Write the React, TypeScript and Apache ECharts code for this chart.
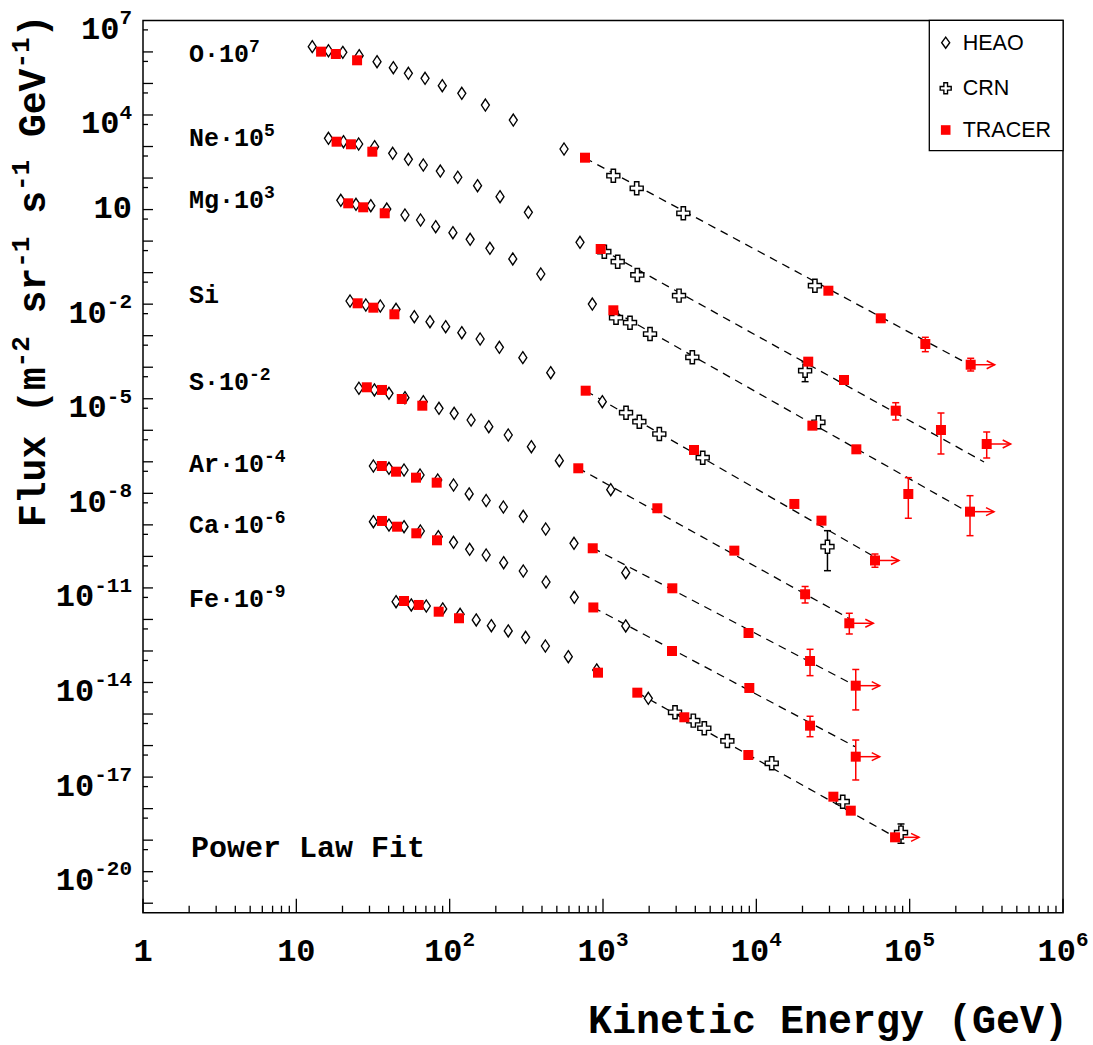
import React, { useEffect, useRef } from "react";
import * as echarts from "echarts";

const MONO = '"Liberation Mono", "DejaVu Sans Mono", monospace';
const SANS = '"Liberation Sans", Arial, sans-serif';

// ---------------- DATA (kinetic energy GeV, scaled flux) ----------------
// HEAO: [E, flux]
const heaoO = [[12.7,1.47e6],[16.2,1.09e6],[20.1,9.7e5],[25.7,7.6e5],[33.6,4.9e5],[42.9,3.16e5],[53.8,2.1e5],[69.1,1.46e5],[89.5,8.5e4],[120,4.87e4],[171,2.07e4],[260,6.9e3],[557,834]];
const heaoNe = [[16.2,1823],[20.3,1422],[25.5,1202],[32.4,987],[42.5,609],[53.8,393],[67.3,259],[86.9,167],[113,106],[152,57.2],[213,25.6],[326,8.2],[708,0.917]];
const heaoMg = [[19.5,19.7],[24.5,14.7],[30.6,13.3],[38.9,10.4],[51.1,6.73],[64.6,4.67],[81.1,2.86],[105,1.85],[136,1.14],[183,0.591],[258,0.271],[393,0.0905],[852,0.0101]];
const heaoSi = [[22.4,0.0126],[28.4,9.41e-3],[35.3,8.74e-3],[44.7,6.87e-3],[58.8,4.0e-3],[74.4,2.78e-3],[94.2,1.93e-3],[120,1.245e-3],[158,7.86e-4],[211,4.28e-4],[300,2.01e-4],[456,6.71e-5],[990,8.06e-6]];
const heaoS = [[25.6,2.15e-5],[32.3,1.9e-5],[40.2,1.49e-5],[51.1,1.08e-5],[67.3,8.06e-6],[85.2,4.98e-6],[107,3.46e-6],[138,2.12e-6],[180,1.3e-6],[241,7.09e-7],[341,3.02e-7],[519,1.084e-7],[1123,1.305e-8]];
const heaoAr = [[31.8,7.37e-8],[40.2,6.23e-8],[50.4,5.5e-8],[64.1,3.82e-8],[83.6,2.65e-8],[106,1.84e-8],[134,9.54e-9],[173,5.93e-9],[224,3.69e-9],[302,1.87e-9],[423,7.4e-10],[647,2.6e-10],[1407,3.04e-11]];
const heaoCa = [[31.8,1.26e-9],[40.2,9.91e-10],[50.4,8.75e-10],[64.4,6.39e-10],[84.3,4.22e-10],[106,2.8e-10],[135,1.68e-10],[173,1.108e-10],[225,6.32e-11],[302,3.44e-11],[425,1.542e-11],[650,5.05e-12],[1407,6.21e-13]];
const heaoFe = [[44.7,3.66e-12],[56.2,2.88e-12],[70.4,2.67e-12],[90.1,2.15e-12],[117,1.459e-12],[149,9.62e-13],[187,6.34e-13],[241,4.31e-13],[313,2.72e-13],[421,1.44e-13],[594,6.59e-14],[910,2.5e-14],[1975,3.16e-15]];

// TRACER: [E, flux, errLow, errHigh, lowerLimitArrow]
const tracerO = [[14.5,1.02e6],[18.1,8.6e5],[24.9,5.43e5],[763,442],[29500,0.0267],[64800,3.56e-3],[126500,5.45e-4,3.11e-4,8.89e-4],[250000,1.2e-4,7.59e-5,1.92e-4,1]];
const tracerNe = [[18.3,1422],[22.7,1176],[31.3,685],[966,0.562],[21800,1.5e-4],[37300,3.93e-5],[81100,4.18e-6,2.12e-6,7.49e-6],[160000,1.02e-6,1.77e-7,3.53e-6],[318000,3.67e-7,1.32e-7,8.82e-7,1]];
const tracerMg = [[21.8,15.8],[27.3,11.8],[37.7,7.62],[1168,6.39e-3],[23200,1.4e-6],[44900,2.49e-7],[98000,9.54e-9,1.62e-9,3.14e-8],[247500,2.62e-9,4.54e-10,8.42e-9,1]];
const tracerSi = [[25.1,0.01065],[31.8,7.73e-3],[43.6,4.77e-3],[771,1.8e-5],[3923,2.37e-7],[17700,4.6e-9],[26600,1.36e-9],[59400,7.42e-11,4.52e-11,1.19e-10,1]];
const tracerS = [[28.8,2.31e-5],[36.2,1.9e-5],[48.7,9.82e-6],[66.3,6.02e-6],[690,6.23e-8],[2261,3.36e-9],[7186,1.52e-10],[20800,6.29e-12,3.33e-12,1.11e-11],[40400,7.56e-13,3.46e-13,1.57e-12,1]];
const tracerAr = [[36.1,7.37e-8],[44.7,4.86e-8],[60.3,3.14e-8],[82.3,2.18e-8],[857,1.81e-10],[2832,9.73e-12],[8894,3.72e-13],[22400,4.82e-14,1.65e-14,1.13e-13],[44500,7.93e-15,1.35e-15,2.59e-14,1]];
const tracerCa = [[36.2,1.33e-9],[45.4,8.75e-10],[60.6,5.4e-10],[82.7,3.24e-10],[865,2.4e-12],[2819,1.0e-13],[9000,6.71e-15],[22400,4.27e-16,1.91e-16,8.49e-16],[44500,4.44e-17,8.1e-18,1.5e-16,1]];
const tracerFe = [[50.4,3.85e-12],[62.8,2.88e-12],[84.8,1.76e-12],[115,1.09e-12],[928,2.05e-14],[1674,4.76e-15],[3392,7.89e-16],[8867,5.03e-17],[31800,2.39e-18],[41300,8.61e-19],[80300,1.23e-19,null,null,1]];

// CRN: [E, flux, errLow, errHigh]
const crnO = [[1168,118.7],[1659,47.3],[3341,7.62],[24100,0.0385]];
const crnNe = [[1020,0.461],[1247,0.222],[1674,0.0842],[3132,0.0186],[20800,7.76e-5,3.48e-5,1.47e-4]];
const crnMg = [[1216,3.72e-3],[1500,2.58e-3],[2026,1.13e-3],[3824,2.06e-4],[25400,1.79e-6]];
const crnSi = [[1413,3.61e-6],[1726,1.87e-6],[2330,7.62e-7],[4471,1.35e-7],[29100,2.03e-10,3.52e-11,6.54e-10]];
const crnFe = [[2949,1.137e-15],[3882,6.16e-16],[4578,3.54e-16],[6470,1.4e-16],[12600,2.74e-17],[36600,1.66e-18],[87800,1.73e-19,7.96e-20,3.26e-19]];

// Power-law fits: [start, end]
const fitO = [[763,432],[236600,1.33e-4]];
const fitNe = [[966,0.562],[305500,9.87e-8]];
const fitMg = [[1168,6.07e-3],[240200,2.56e-9]];
const fitSi = [[775,1.76e-5],[57700,1.03e-10]];
const fitS = [[687,6.37e-8],[40850,1.035e-12]];
const fitAr = [[857,1.85e-10],[42100,8.98e-15]];
const fitCa = [[865,2.4e-12],[44000,9.22e-17]];
const fitFe = [[1674,4.76e-15],[82700,1.17e-19]];

// Texts
const elementLabels = ["O·10", "Ne·10", "Mg·10", "Si", "S·10", "Ar·10", "Ca·10", "Fe·10"];
const elementExps = ["7", "5", "3", "", "-2", "-4", "-6", "-9"];
const xLabelExps = [0, 1, 2, 3, 4, 5, 6];
const yLabelExps = [7, 4, 1, -2, -5, -8, -11, -14, -17, -20];
const legendNames = ["HEAO", "CRN", "TRACER"];
const xTitle = "Kinetic Energy (GeV)";
const fitNote = "Power Law Fit";

// ---------------- LAYOUT / STYLE ----------------
const X_MIN = 1, X_MAX = 1e6, Y_MIN = 5e-22, Y_MAX = 1e7;
const G_LEFT = 143, G_TOP = 20.4, G_W = 920, G_H = 892.3;
const labelYs = [55, 139, 201, 296, 383, 465, 526, 600];
const TF = 32, TS = 21, ADV = 0.6;

function txt(x: number, y: number, text: string, size: number, opts: any = {}) {
  return {
    type: "text", x, y, silent: true,
    style: {
      text, fontSize: size, fontFamily: opts.family || MONO, fontWeight: opts.weight || "bold",
      fill: "#000", align: opts.align || "left", verticalAlign: "middle",
    },
  };
}

function powLabel(exp: number, x: number, y: number, anchor: "center" | "right") {
  const base = exp === 0 ? "1" : "10";
  const sup = exp === 0 || exp === 1 ? "" : String(exp);
  const bw = base.length * ADV * TF;
  const sw = sup.length * ADV * TS;
  const bx = anchor === "center" ? x - (bw + sw) / 2 : x - bw - sw;
  const kids: any[] = [txt(bx, y, base, TF)];
  if (sup) kids.push(txt(bx + bw, y - 11.7, sup, TS));
  return kids;
}

function crossPts(cx: number, cy: number, s: number) {
  const a = s / 2, b = s / 6;
  return [[cx - b, cy - a], [cx + b, cy - a], [cx + b, cy - b], [cx + a, cy - b], [cx + a, cy + b], [cx + b, cy + b],
    [cx + b, cy + a], [cx - b, cy + a], [cx - b, cy + b], [cx - a, cy + b], [cx - a, cy - b], [cx - b, cy - b]];
}

const CROSS_PATH = "path://M1,0H2V1H3V2H2V3H1V2H0V1H1Z";

function errSeries(rows: any[], color: string) {
  return {
    type: "custom", coordinateSystem: "cartesian2d", silent: true, z: 3,
    data: rows,
    renderItem: (params: any, api: any) => {
      const x = api.value(0);
      const a = api.coord([x, api.value(2)]);
      const b = api.coord([x, api.value(3)]);
      const cw = 3.5;
      const st = { stroke: color, lineWidth: 1.5 };
      return {
        type: "group", children: [
          { type: "line", shape: { x1: a[0], y1: a[1], x2: b[0], y2: b[1] }, style: st },
          { type: "line", shape: { x1: a[0] - cw, y1: a[1], x2: a[0] + cw, y2: a[1] }, style: st },
          { type: "line", shape: { x1: b[0] - cw, y1: b[1], x2: b[0] + cw, y2: b[1] }, style: st },
        ],
      };
    },
  };
}

function arrowSeries(rows: any[], color: string) {
  return {
    type: "custom", coordinateSystem: "cartesian2d", silent: true, z: 3,
    data: rows,
    renderItem: (params: any, api: any) => {
      const p = api.coord([api.value(0), api.value(1)]);
      const L = 24;
      const st = { stroke: color, lineWidth: 1.5, fill: "none" };
      return {
        type: "group", children: [
          { type: "line", shape: { x1: p[0], y1: p[1], x2: p[0] + L, y2: p[1] }, style: st },
          { type: "polyline", shape: { points: [[p[0] + L - 8, p[1] - 4], [p[0] + L, p[1]], [p[0] + L - 8, p[1] + 4]] }, style: st },
        ],
      };
    },
  };
}

export default function App() {
  const ref = useRef<HTMLDivElement>(null);
  useEffect(() => {
    if (!ref.current) return;
    const chart = echarts.init(ref.current, undefined, { renderer: "svg" });

    const heaoAll = [heaoO, heaoNe, heaoMg, heaoSi, heaoS, heaoAr, heaoCa, heaoFe].flat();
    const tracerAll = [tracerO, tracerNe, tracerMg, tracerSi, tracerS, tracerAr, tracerCa, tracerFe].flat();
    const crnAll = [crnO, crnNe, crnMg, crnSi, crnFe].flat();
    const fits = [fitO, fitNe, fitMg, fitSi, fitS, fitAr, fitCa, fitFe];

    const tracerErr = tracerAll.filter((r: any) => r.length >= 4 && r[2] != null).map((r: any) => [r[0], r[1], r[2], r[3]]);
    const tracerLim = tracerAll.filter((r: any) => r[4] === 1).map((r: any) => [r[0], r[1]]);
    const crnErr = crnAll.filter((r: any) => r.length >= 4 && r[2] != null).map((r: any) => [r[0], r[1], r[2], r[3]]);

    // tick values
    const xTicks: number[][] = [];
    for (let e = 0; e <= 6; e++) {
      xTicks.push([Math.pow(10, e), Y_MIN, 1]);
      if (e < 6) for (let k = 2; k <= 9; k++) xTicks.push([k * Math.pow(10, e), Y_MIN, 0]);
    }
    const yTicks: number[][] = [];
    for (let e = -21; e <= 6; e++) {
      yTicks.push([X_MIN, Math.pow(10, e), 1]);
      yTicks.push([X_MIN, 5 * Math.pow(10, e), 0]);
    }

    const series: any[] = [];
    fits.forEach((f) => {
      series.push({
        type: "line", data: f, symbol: "none", silent: true, z: 2,
        lineStyle: { color: "#000", width: 1.3, type: [8, 6] },
      });
    });
    series.push(errSeries(crnErr, "#000"));
    series.push(errSeries(tracerErr, "#ff0000"));
    series.push(arrowSeries(tracerLim, "#ff0000"));
    series.push({
      type: "scatter", name: "HEAO", data: heaoAll, symbol: "diamond", symbolSize: [8, 12], z: 4, silent: true,
      itemStyle: { color: "#fff", borderColor: "#000", borderWidth: 1.4, opacity: 1 },
    });
    series.push({
      type: "scatter", name: "CRN", data: crnAll.map((r: any) => [r[0], r[1]]), symbol: CROSS_PATH, symbolSize: 13, z: 4, silent: true,
      itemStyle: { color: "#fff", borderColor: "#000", borderWidth: 1.4, opacity: 1 },
    });
    series.push({
      type: "scatter", name: "TRACER", data: tracerAll.map((r: any) => [r[0], r[1]]), symbol: "rect", symbolSize: 10, z: 4, silent: true,
      itemStyle: { color: "#ff0000", opacity: 1 },
    });
    // axis ticks
    series.push({
      type: "custom", coordinateSystem: "cartesian2d", silent: true, z: 6, data: xTicks,
      renderItem: (params: any, api: any) => {
        const p = api.coord([api.value(0), Y_MIN]);
        const len = api.value(2) ? 14 : 7;
        return { type: "line", shape: { x1: p[0], y1: p[1], x2: p[0], y2: p[1] - len }, style: { stroke: "#000", lineWidth: 1.3 } };
      },
    });
    series.push({
      type: "custom", coordinateSystem: "cartesian2d", silent: true, z: 6, data: yTicks,
      renderItem: (params: any, api: any) => {
        const p = api.coord([X_MIN, api.value(1)]);
        const len = api.value(2) ? 10 : 5;
        return { type: "line", shape: { x1: p[0], y1: p[1], x2: p[0] + len, y2: p[1] }, style: { stroke: "#000", lineWidth: 1.3 } };
      },
    });
    // axis labels
    series.push({
      type: "custom", coordinateSystem: "cartesian2d", silent: true, z: 6,
      data: xLabelExps.map((e) => [Math.pow(10, e), Y_MIN]),
      renderItem: (params: any, api: any) => {
        const p = api.coord([api.value(0), Y_MIN]);
        const e = xLabelExps[params.dataIndex];
        return { type: "group", children: powLabel(e, p[0], p[1] + 39.5, "center") };
      },
    });
    series.push({
      type: "custom", coordinateSystem: "cartesian2d", silent: true, z: 6,
      data: yLabelExps.map((e) => [X_MIN, Math.pow(10, e)]),
      renderItem: (params: any, api: any) => {
        const p = api.coord([X_MIN, api.value(1)]);
        const e = yLabelExps[params.dataIndex];
        const dy = e === 1 ? 0 : 10;
        return { type: "group", children: powLabel(e, p[0] - 11, p[1] + dy, "right") };
      },
    });

    // graphics: element labels, titles, legend
    const graphic: any[] = [];
    elementLabels.forEach((lab, i) => {
      const x0 = 189, y0 = labelYs[i];
      graphic.push(txt(x0, y0, lab, 25));
      if (elementExps[i]) graphic.push(txt(x0 + lab.length * ADV * 25, y0 - 8, elementExps[i], 18));
    });
    graphic.push(txt(191, 848.5, fitNote, 30));
    graphic.push(txt(1068, 1022, xTitle, 40, { align: "right" }));

    // rotated y title
    const BF = 38, SF = 26;
    const segs: [string, boolean][] = [["Flux (m", false], ["-2", true], [" sr", false], ["-1", true], [" s", false], ["-1", true], [" GeV", false], ["-1", true], [")", false]];
    const kids: any[] = [];
    let cx = 0;
    segs.forEach(([s, sup]) => {
      const sz = sup ? SF : BF;
      kids.push(txt(cx, sup ? -12 : 0, s, sz));
      cx += s.length * ADV * sz;
    });
    graphic.push({ type: "group", x: 34, y: 527, rotation: Math.PI / 2, silent: true, children: kids });

    // legend box
    const LX = 929.3, LY = 20.4, LW = 133.8, LH = 130.3;
    graphic.push({ type: "rect", silent: true, z: 10, shape: { x: LX, y: LY, width: LW, height: LH }, style: { fill: "#fff", stroke: "#000", lineWidth: 1.3 } });
    const mx = 945.7, ly = [42.7, 88.3, 130];
    graphic.push({ type: "polygon", silent: true, z: 11, shape: { points: [[mx - 4, ly[0]], [mx, ly[0] - 5.5], [mx + 4, ly[0]], [mx, ly[0] + 5.5]] }, style: { fill: "#fff", stroke: "#000", lineWidth: 1.4 } });
    graphic.push({ type: "polygon", silent: true, z: 11, shape: { points: crossPts(mx, ly[1], 11) }, style: { fill: "#fff", stroke: "#000", lineWidth: 1.4 } });
    graphic.push({ type: "rect", silent: true, z: 11, shape: { x: mx - 4.8, y: ly[2] - 4.8, width: 9.6, height: 9.6 }, style: { fill: "#ff0000" } });
    legendNames.forEach((n, i) => {
      const t: any = txt(962.7, ly[i], n, 21.5, { family: SANS, weight: "normal" });
      t.z = 11;
      graphic.push(t);
    });

    chart.setOption({
      animation: false,
      backgroundColor: "#fff",
      grid: { left: G_LEFT, top: G_TOP, width: G_W, height: G_H, show: true, borderColor: "#000", borderWidth: 1.5, backgroundColor: "transparent" },
      xAxis: {
        type: "log", logBase: 10, min: X_MIN, max: X_MAX,
        axisLine: { show: false }, axisTick: { show: false }, axisLabel: { show: false }, splitLine: { show: false },
      },
      yAxis: {
        type: "log", logBase: 10, min: Y_MIN, max: Y_MAX,
        axisLine: { show: false }, axisTick: { show: false }, axisLabel: { show: false }, splitLine: { show: false },
      },
      series,
      graphic,
    });
    return () => chart.dispose();
  }, []);
  return <div ref={ref} style={{ position: "fixed", left: 0, top: 0, width: 1093, height: 1045 }} />;
}
